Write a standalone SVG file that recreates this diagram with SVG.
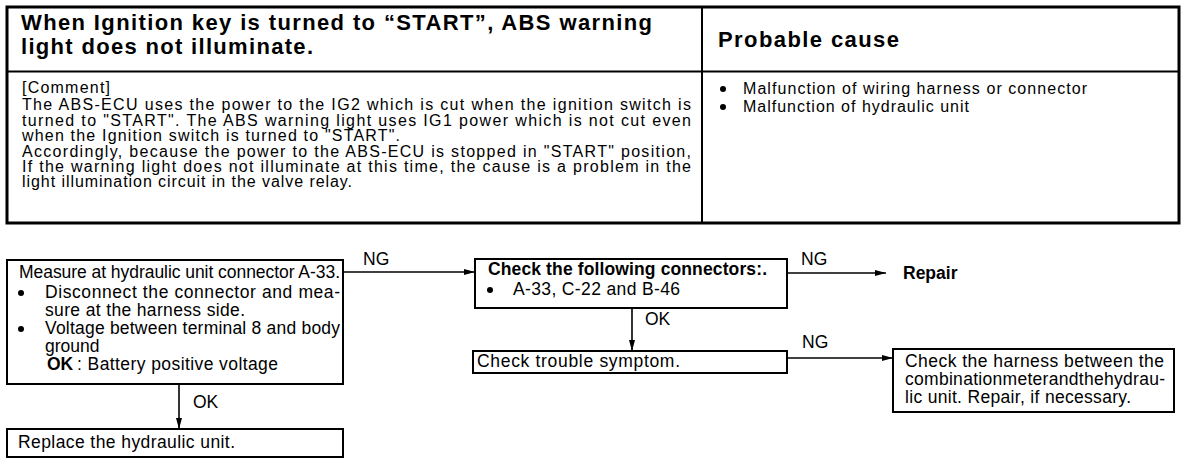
<svg xmlns="http://www.w3.org/2000/svg" width="1200" height="462" viewBox="0 0 1200 462">
<style>
text{font-family:"Liberation Sans",Arial,sans-serif;fill:#000}
.h{font-size:22px;font-weight:bold}
.c{font-size:16px}
.f{font-size:17.5px}
.lb{font-size:17.5px}
.bd{font-weight:bold}
.frame{fill:none;stroke:#000;stroke-width:3}
.box{fill:#fff;stroke:#000;stroke-width:2}
.ln{fill:none;stroke:#000;stroke-width:2}
.con{fill:none;stroke:#000;stroke-width:1.6}
.dot{fill:#000}
</style>
<defs>
<marker id="ah" markerUnits="userSpaceOnUse" markerWidth="12" markerHeight="8" refX="11" refY="4" orient="auto">
<path d="M0,1 L11,4 L0,7 z" fill="#000"/>
</marker>
</defs>
<rect width="1200" height="462" fill="#fff"/>

<g id="table">
<rect class="frame" x="7" y="7" width="1172" height="216"/>
<line class="ln" x1="702" y1="7" x2="702" y2="223"/>
<line class="ln" x1="7" y1="71.5" x2="1179" y2="71.5"/>
</g>

<g id="symptom">
<text class="h" x="21" y="30" textLength="631">When Ignition key is turned to “START”, ABS warning</text>
<text class="h" x="21" y="54" textLength="292">light does not illuminate.</text>
</g>

<g id="comment">
<text class="c" x="22" y="93" textLength="88">[Comment]</text>
<text class="c" x="22" y="110" textLength="669">The ABS-ECU uses the power to the IG2 which is cut when the ignition switch is</text>
<text class="c" x="22" y="126" textLength="669">turned to "START".  The ABS warning light uses IG1 power which is not cut even</text>
<text class="c" x="22" y="141" textLength="378">when the Ignition switch is turned to "START".</text>
<text class="c" x="22" y="157" textLength="669">Accordingly, because the power to the ABS-ECU is stopped in "START" position,</text>
<text class="c" x="22" y="172" textLength="669">If the warning light does not illuminate at this time, the cause is a problem in the</text>
<text class="c" x="22" y="187" textLength="330">light illumination circuit in the valve relay.</text>
</g>

<g id="probable-cause">
<text class="h" x="718" y="47" textLength="181">Probable cause</text>
<circle class="dot" cx="723" cy="89" r="3"/>
<text class="c" x="743" y="94" textLength="344">Malfunction of wiring harness or connector</text>
<circle class="dot" cx="723" cy="107" r="3"/>
<text class="c" x="743" y="112" textLength="226">Malfunction of hydraulic unit</text>
</g>

<g id="connectors">
<line class="con" x1="343" y1="272" x2="475" y2="272" marker-end="url(#ah)"/>
<line class="con" x1="179" y1="384" x2="179" y2="429" marker-end="url(#ah)"/>
<line class="con" x1="787" y1="273" x2="886" y2="273" marker-end="url(#ah)"/>
<line class="con" x1="632" y1="308" x2="632" y2="351" marker-end="url(#ah)"/>
<line class="con" x1="787" y1="358" x2="893" y2="358" marker-end="url(#ah)"/>
<text class="lb" x="363" y="265">NG</text>
<text class="lb" x="193" y="408">OK</text>
<text class="lb" x="801" y="265">NG</text>
<text class="lb" x="645" y="325">OK</text>
<text class="lb" x="802" y="348">NG</text>
</g>

<g id="measure">
<rect class="box" x="7" y="260" width="336" height="124"/>
<text class="f" x="19" y="278" textLength="321">Measure at hydraulic unit connector A-33.</text>
<circle class="dot" cx="21" cy="293" r="3"/>
<text class="f" x="45" y="298" textLength="295">Disconnect the connector and mea-</text>
<text class="f" x="45" y="316" textLength="200">sure at the harness side.</text>
<circle class="dot" cx="21" cy="329" r="3"/>
<text class="f" x="45" y="334" textLength="295">Voltage between terminal 8 and body</text>
<text class="f" x="45" y="352">ground</text>
<text class="f bd" x="47" y="370">OK</text>
<text class="f" x="77" y="370" textLength="201">: Battery positive voltage</text>
</g>

<g id="replace">
<rect class="box" x="7" y="429" width="336" height="28"/>
<text class="f" x="18" y="448" textLength="217">Replace the hydraulic unit.</text>
</g>

<g id="check-connectors">
<rect class="box" x="475" y="259" width="312" height="49"/>
<text class="f bd" x="488" y="275" textLength="279">Check the following connectors:.</text>
<circle class="dot" cx="490" cy="290" r="3"/>
<text class="f" x="513" y="295" textLength="167">A-33, C-22 and B-46</text>
</g>

<g id="repair">
<text class="f bd" x="903" y="279">Repair</text>
</g>

<g id="check-trouble">
<rect class="box" x="473" y="351" width="314" height="22"/>
<text class="f" x="477" y="367" textLength="203">Check trouble symptom.</text>
</g>

<g id="check-harness">
<rect class="box" x="893" y="349" width="281" height="63"/>
<text class="f" x="905" y="367" textLength="259">Check the harness between the</text>
<text class="f" x="905" y="385" textLength="260">combinationmeterandthehydrau-</text>
<text class="f" x="905" y="403" textLength="226">lic unit. Repair, if necessary.</text>
</g>
</svg>
